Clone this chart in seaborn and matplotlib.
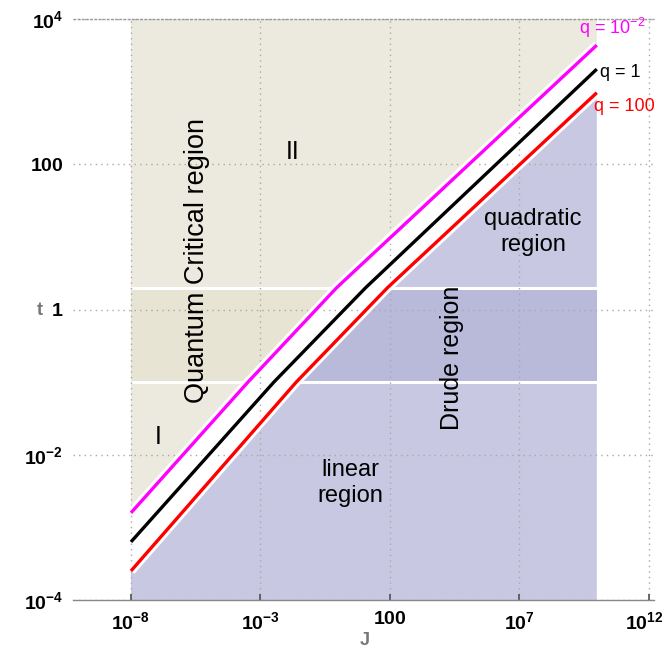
import numpy as np
import pandas as pd
import matplotlib
matplotlib.use("Agg")
import matplotlib.pyplot as plt
import matplotlib.patheffects as pe
import matplotlib.transforms as mtransforms
import seaborn as sns

# ---- data (log10 values) ----
curve_names = ["q = 10^-2", "q = 1", "q = 100"]
logJ_magenta = [-8.0, -3.48, -0.05, 10.0]
logt_magenta = [-2.80, -1.0, 0.301, 3.64]
logJ_black = [-8.0, -2.48, 1.07, 10.0]
logt_black = [-3.20, -1.0, 0.301, 3.31]
logJ_red = [-8.0, -1.615, 1.915, 10.0]
logt_red = [-3.60, -1.0, 0.301, 2.985]

band_low = 0.1
band_high = 2.0
J_start = 1e-8
J_end = 1e10

xticks = [1e-8, 1e-3, 1e2, 1e7, 1e12]
xticklabels = [r"$\mathbf{10^{-8}}$", r"$\mathbf{10^{-3}}$", r"$\mathbf{100}$",
               r"$\mathbf{10^{7}}$", r"$\mathbf{10^{12}}$"]
yticks = [1e-4, 1e-2, 1, 1e2, 1e4]
yticklabels = [r"$\mathbf{10^{-4}}$", r"$\mathbf{10^{-2}}$", r"$\mathbf{1}$",
               r"$\mathbf{100}$", r"$\mathbf{10^{4}}$"]

sns.set_theme(style="white")
plt.rcParams["font.family"] = ["Liberation Sans", "DejaVu Sans"]
plt.rcParams["mathtext.fontset"] = "custom"
plt.rcParams["mathtext.rm"] = "Liberation Sans"
plt.rcParams["mathtext.it"] = "Liberation Sans:italic"
plt.rcParams["mathtext.bf"] = "Liberation Sans:bold"
plt.rcParams["text.color"] = "black"
plt.rcParams["xtick.color"] = "black"
plt.rcParams["ytick.color"] = "black"

fig = plt.figure(figsize=(6.66, 6.59), dpi=100)
ax = fig.add_axes([73 / 666, 1 - 600 / 659, 581 / 666, 581 / 659])
ax.set_xscale("log")
ax.set_yscale("log")
ax.set_xlim(10 ** -10.24, 10 ** 12.21)
ax.set_ylim(1e-4, 1e4)

Jm = 10 ** np.array(logJ_magenta); tm = 10 ** np.array(logt_magenta)
Jb = 10 ** np.array(logJ_black); tb = 10 ** np.array(logt_black)
Jr = 10 ** np.array(logJ_red); tr = 10 ** np.array(logt_red)

beige = "#ECEADF"; beige_d = "#E7E4D4"
blue = "#C8C8E2"; blue_d = "#B9B9DA"

# beige region above magenta
ax.fill(list(Jm) + [J_end, J_start], list(tm) + [1e4, 1e4], color=beige, lw=0, zorder=0.5)
# blue region below red
ax.fill(list(Jr) + [J_end, J_start], list(tr) + [1e-4, 1e-4], color=blue, lw=0, zorder=0.5)
# darker bands
ax.fill([J_start, Jm[1], Jm[2], J_start], [band_low, band_low, band_high, band_high],
        color=beige_d, lw=0, zorder=0.6)
ax.fill([Jr[1], J_end, J_end, Jr[2]], [band_low, band_low, band_high, band_high],
        color=blue_d, lw=0, zorder=0.6)
ax.hlines([band_low, band_high], J_start, J_end, colors="white", lw=2.2, zorder=0.8)

ax.set_axisbelow("line")
ax.grid(True, which="major", color="#A8A8A8", linestyle=(0, (1, 3)), lw=1.0)
ax.grid(False, which="minor")

df = pd.concat([
    pd.DataFrame({"J": Jm, "t": tm, "q": curve_names[0]}),
    pd.DataFrame({"J": Jb, "t": tb, "q": curve_names[1]}),
    pd.DataFrame({"J": Jr, "t": tr, "q": curve_names[2]}),
])
sns.lineplot(data=df, x="J", y="t", hue="q",
             palette={curve_names[0]: "#FF00FF", curve_names[1]: "black", curve_names[2]: "#FF0000"},
             lw=2.4, legend=False, ax=ax, zorder=3, sort=False,
             path_effects=[pe.Stroke(linewidth=6.5, foreground="white"), pe.Normal()])
for ln in ax.lines:
    ln.set_solid_capstyle("butt")

def P(lx, ly):
    return 10 ** lx, 10 ** ly

ax.text(*P(-5.45, 0.68), "Quantum Critical region", rotation=90, ha="center", va="center", fontsize=19.5, zorder=4)
ax.text(*P(-1.74, 2.17), "II", ha="center", va="center", fontsize=18, zorder=4)
ax.text(*P(-6.96, -1.76), "I", ha="center", va="center", fontsize=18, zorder=4)
ax.text(*P(4.41, -0.66), "Drude region", rotation=90, ha="center", va="center", fontsize=18, zorder=4)
ax.text(*P(7.54, 1.07), "quadratic\nregion", ha="center", va="center", fontsize=17, linespacing=1.25, zorder=4)
ax.text(*P(0.46, -2.39), "linear\nregion", ha="center", va="center", fontsize=17, linespacing=1.25, zorder=4)
ax.text(*P(10.59, 3.87), r"q = 10$^{-2}$", color="#FF00FF", ha="center", va="center", fontsize=13, zorder=4, clip_on=False)
ax.text(*P(10.9, 3.27), "q = 1", color="black", ha="center", va="center", fontsize=13, zorder=4, clip_on=False)
ax.text(*P(11.05, 2.80), "q = 100", color="#FF0000", ha="center", va="center", fontsize=13, zorder=4, clip_on=False)

ax.set_xticks(xticks)
ax.set_xticklabels(xticklabels)
ax.set_yticks(yticks)
ax.set_yticklabels(yticklabels)
ax.minorticks_off()
ax.tick_params(axis="x", direction="in", length=4, color="#555555", labelcolor="black", labelsize=14, pad=8, bottom=True)
ax.tick_params(axis="y", length=0, labelcolor="black", labelsize=14, pad=7)
# nudge the last x label slightly left so it stays inside the figure
lbl = ax.get_xticklabels()[-1]
lbl.set_transform(lbl.get_transform() + mtransforms.ScaledTranslation(-4 / 100, 0, fig.dpi_scale_trans))
for s in ["left", "right", "top"]:
    ax.spines[s].set_visible(False)
ax.spines["bottom"].set_color("#888888")
ax.spines["bottom"].set_linewidth(1.0)
ax.plot([0, 1], [1, 1], transform=ax.transAxes, color="#999999", lw=1.0, ls=(0, (2, 1)), clip_on=False, zorder=5)
ax.set_xlabel("")
ax.set_ylabel("")
ax.text(-0.057, 0.499, "t", transform=ax.transAxes, ha="center", va="center", fontsize=13, fontweight="bold", color="#777777")
ax.text(0.5026, -0.069, "J", transform=ax.transAxes, ha="center", va="center", fontsize=13, fontweight="bold", color="#777777")

fig.savefig("out.png", dpi=100)
